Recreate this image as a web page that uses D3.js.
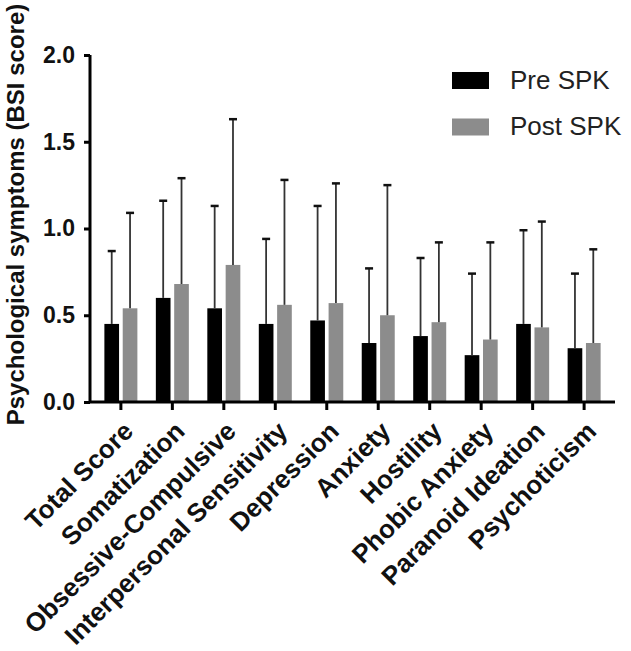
<!DOCTYPE html>
<html>
<head>
  <title>BSI scores</title>
  <script src="https://cdn.jsdelivr.net/npm/d3@7/dist/d3.min.js"></script>
  <style>
    body { margin: 0; background: #fff; }
    text { font-family: Arial, "Liberation Sans", sans-serif; }
  </style>
</head>
<body>
  <svg width="631" height="651" id="mainsvg"></svg>
  <script>
    // data
    const categories = ['Total Score', 'Somatization', 'Obsessive-Compulsive', 'Interpersonal Sensitivity',
      'Depression', 'Anxiety', 'Hostility', 'Phobic Anxiety', 'Paranoid Ideation', 'Psychoticism'];
    const series = ['Pre SPK', 'Post SPK'];
    const preMean = [0.45, 0.60, 0.54, 0.45, 0.47, 0.34, 0.38, 0.27, 0.45, 0.31];
    const preSD = [0.42, 0.56, 0.59, 0.49, 0.66, 0.43, 0.45, 0.47, 0.54, 0.43];
    const postMean = [0.54, 0.68, 0.79, 0.56, 0.57, 0.50, 0.46, 0.36, 0.43, 0.34];
    const postSD = [0.55, 0.61, 0.84, 0.72, 0.69, 0.75, 0.46, 0.56, 0.61, 0.54];
    const yTicks = [0, 0.5, 1.0, 1.5, 2.0];

    const colors = { 'Pre SPK': '#000000', 'Post SPK': '#8c8c8c' };

    const svg = d3.select('#mainsvg');
    const axisLeft = 90, axisRight = 615, yTop = 55, yBottom = 402;

    const rows = categories.map((c, i) => ({
      cat: c,
      values: [
        { s: 'Pre SPK', mean: preMean[i], sd: preSD[i] },
        { s: 'Post SPK', mean: postMean[i], sd: postSD[i] }
      ]
    }));

    const y = d3.scaleLinear().domain([0, 2]).range([yBottom, yTop]);
    const x0 = d3.scaleBand().domain(categories).range([axisLeft, axisRight])
      .paddingInner(0).paddingOuter(0.1);
    const x1 = d3.scaleBand().domain(series).range([-16.5, 16.5]).paddingInner(0.2);
    const cx = c => x0(c) + x0.bandwidth() / 2;

    // bars
    const groups = svg.append('g').selectAll('g')
      .data(rows)
      .join('g')
      .attr('transform', d => `translate(${cx(d.cat)},0)`);

    groups.selectAll('rect')
      .data(d => d.values)
      .join('rect')
      .attr('x', d => x1(d.s))
      .attr('width', x1.bandwidth())
      .attr('y', d => y(d.mean))
      .attr('height', d => y(0) - y(d.mean))
      .attr('fill', d => colors[d.s]);

    // error bars (upper only)
    groups.selectAll('.stem')
      .data(d => d.values)
      .join('line')
      .attr('class', 'stem')
      .attr('x1', d => x1(d.s) + x1.bandwidth() / 2)
      .attr('x2', d => x1(d.s) + x1.bandwidth() / 2)
      .attr('y1', d => y(d.mean))
      .attr('y2', d => y(d.mean + d.sd))
      .attr('stroke', '#333')
      .attr('stroke-width', 1.8);

    groups.selectAll('.cap')
      .data(d => d.values)
      .join('line')
      .attr('class', 'cap')
      .attr('x1', d => x1(d.s) + x1.bandwidth() / 2 - 4)
      .attr('x2', d => x1(d.s) + x1.bandwidth() / 2 + 4)
      .attr('y1', d => y(d.mean + d.sd))
      .attr('y2', d => y(d.mean + d.sd))
      .attr('stroke', '#111')
      .attr('stroke-width', 2.5);

    // y axis
    const gy = svg.append('g')
      .attr('transform', `translate(${axisLeft},0)`)
      .call(d3.axisLeft(y).tickValues(yTicks).tickFormat(d3.format('.1f')).tickSize(6).tickPadding(9));
    gy.select('.domain').attr('d', `M0,${yTop}V${yBottom}`).attr('stroke-width', 3);
    gy.selectAll('.tick line').attr('stroke-width', 3);
    gy.selectAll('.tick text')
      .attr('font-size', 23).attr('font-weight', 'bold').attr('fill', '#111')
      .attr('font-family', 'Arial, "Liberation Sans", sans-serif');

    // x axis
    const gx = svg.append('g')
      .attr('transform', `translate(0,${yBottom})`)
      .call(d3.axisBottom(x0).tickSize(8).tickSizeOuter(0));
    gx.select('.domain').attr('d', `M${axisLeft},0H${axisRight}`).attr('stroke-width', 3);
    gx.selectAll('.tick line').attr('stroke-width', 3);
    gx.selectAll('.tick text')
      .attr('font-size', 26).attr('font-weight', 'bold').attr('fill', '#111')
      .attr('font-family', 'Arial, "Liberation Sans", sans-serif')
      .attr('text-anchor', 'end')
      .attr('dy', null)
      .attr('transform', 'translate(6,23) rotate(-45)');

    // y title
    svg.append('text')
      .attr('transform', `translate(24,${(yTop + yBottom) / 2 - 14}) rotate(-90)`)
      .attr('text-anchor', 'middle')
      .attr('font-size', 24).attr('font-weight', 'bold').attr('fill', '#111')
      .text('Psychological symptoms (BSI score)');

    // legend
    const legend = svg.append('g').selectAll('g')
      .data(series)
      .join('g')
      .attr('transform', (d, i) => `translate(452,${72 + i * 46.5})`);
    legend.append('rect')
      .attr('width', 37).attr('height', 17)
      .attr('fill', d => colors[d]);
    legend.append('text')
      .attr('x', 58).attr('y', 16.5)
      .attr('font-size', 26).attr('fill', '#222')
      .text(d => d);
  </script>
</body>
</html>
